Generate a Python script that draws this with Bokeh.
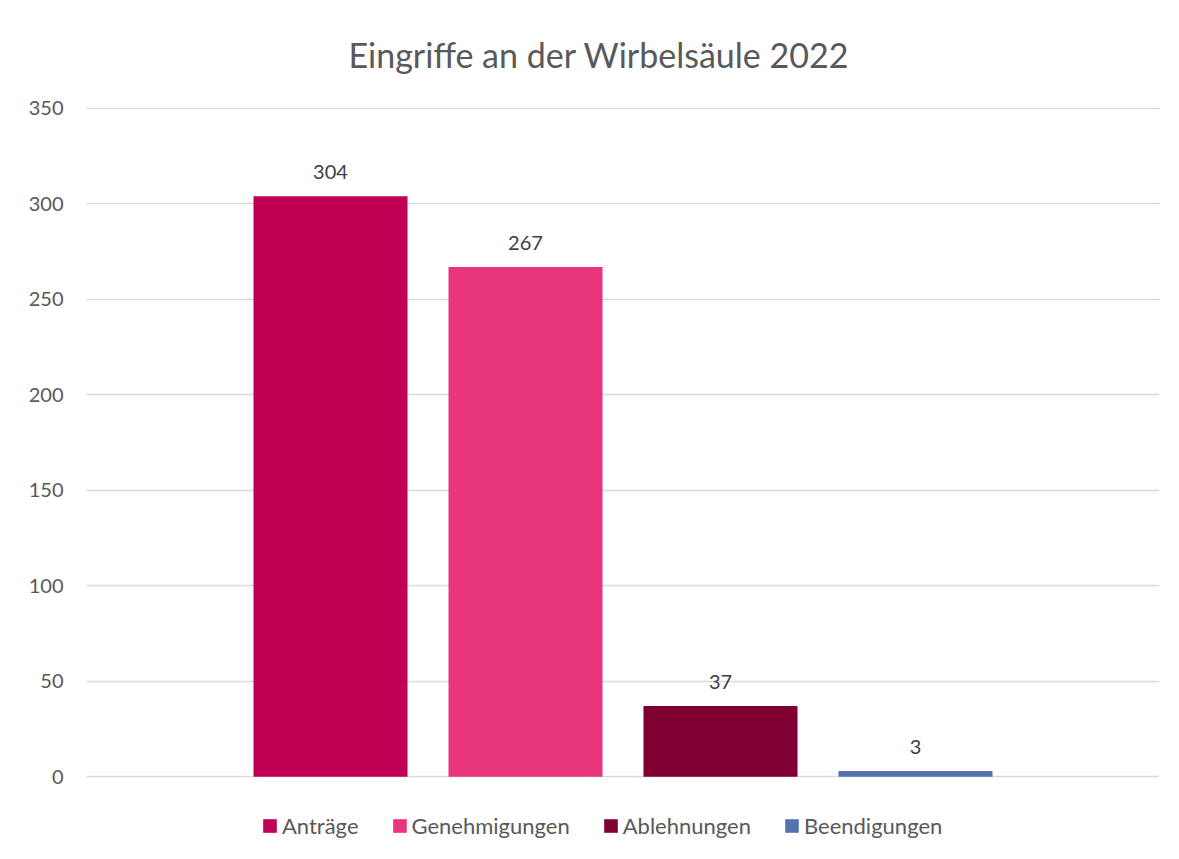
from bokeh.plotting import figure
from bokeh.models import (ColumnDataSource, FactorRange, Range1d, Legend, LegendItem,
                          FixedTicker, LabelSet)
from bokeh.core.properties import value
from bokeh.embed import file_html
from bokeh.resources import INLINE

title = "Eingriffe an der Wirbelsäule 2022"
categories = ["Anträge", "Genehmigungen", "Ablehnungen", "Beendigungen"]
values = [304, 267, 37, 3]
colors = ["#C00055", "#E9357B", "#800034", "#5473AD"]
y_ticks = [0, 50, 100, 150, 200, 250, 300, 350]

FONT = "Lato"

# layout geometry (pixels)
W, H = 1179, 859
TOP_GAP = 2                 # small room above the 350 gridline so it is drawn
TOP, LEFT, RIGHT = 106 - TOP_GAP, 86, 20
AXIS_SPAN_PX = 670          # pixels from 0 to 350
BELOW_ZERO_PX = 83          # space under the zero line kept inside the frame (legend area)
y_top = y_ticks[-1]
px_unit = y_top / AXIS_SPAN_PX
y_min = -BELOW_ZERO_PX * px_unit
y_max = y_top + TOP_GAP * px_unit

src = ColumnDataSource(dict(cat=categories, val=values, color=colors,
                            lbl=[str(v) for v in values]))

p = figure(width=W, height=H, output_backend="svg", toolbar_location=None,
           x_range=FactorRange(*categories, range_padding=0.3757),
           y_range=Range1d(y_min, y_max), x_axis_location=None,
           min_border_left=LEFT, min_border_right=RIGHT, min_border_top=TOP,
           min_border_bottom=0)

p.title.text = title
p.title.align = "left"
p.title.offset = 262
p.title.text_font = FONT
p.title.text_font_size = "34px"
p.title.text_font_style = "normal"
p.title.text_color = "#595959"
p.title.standoff = 63

p.outline_line_color = None
p.xgrid.grid_line_color = None
p.ygrid.grid_line_color = "#D9D9D9"
p.ygrid.grid_line_width = 1.5
p.ygrid.ticker = FixedTicker(ticks=y_ticks)

ya = p.yaxis[0]
ya.ticker = FixedTicker(ticks=y_ticks)
ya.axis_line_color = None
ya.major_tick_line_color = None
ya.minor_tick_line_color = None
ya.major_label_text_font = FONT
ya.major_label_text_font_size = "20px"
ya.major_label_text_color = "#595959"
ya.major_label_standoff = 17

r = p.vbar(x="cat", top="val", width=0.79, color="color", source=src, line_color=None)

labels = LabelSet(x="cat", y="val", text="lbl", source=src, y_offset=17,
                  text_align="center", text_baseline="alphabetic",
                  text_font=value(FONT), text_font_size="20px", text_color="#404040")
p.add_layout(labels)

items = [LegendItem(label=c, renderers=[r], index=i) for i, c in enumerate(categories)]
legend = Legend(items=items, orientation="horizontal", location=(175, 20),
                padding=0, margin=0, spacing=32, label_standoff=4,
                glyph_width=17, glyph_height=17, label_height=21,
                label_text_font=FONT, label_text_font_size="22px",
                label_text_color="#595959", border_line_color=None,
                background_fill_alpha=0)
p.add_layout(legend, "center")

open("out.html", "w").write(file_html(p, INLINE))
